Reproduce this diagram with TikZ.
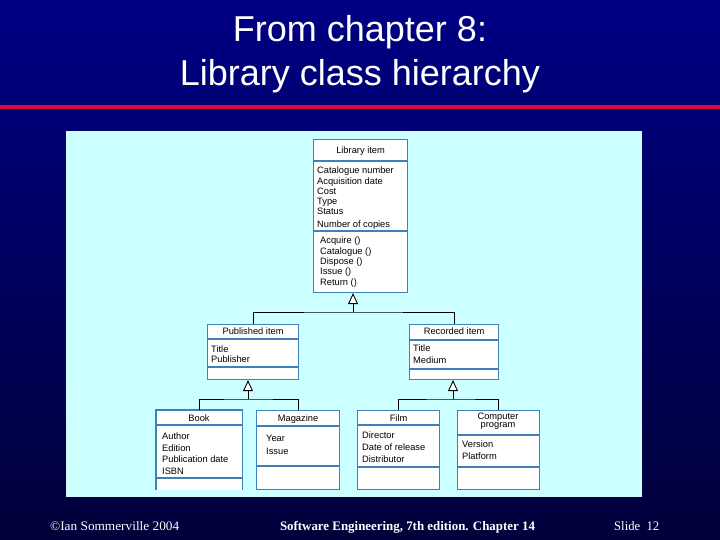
\documentclass[tikz,border=0pt]{standalone}
\usepackage{fontspec}
\setmainfont{Liberation Serif}
\newfontfamily\arialfont{Liberation Sans}
\usetikzlibrary{arrows.meta}

\definecolor{slidetop}{RGB}{0,0,132}
\definecolor{slidebottom}{RGB}{0,0,58}
\definecolor{titlerule}{RGB}{228,8,58}
\definecolor{panel}{RGB}{204,255,255}
\definecolor{boxblue}{RGB}{62,128,186}

\begin{document}
\begin{tikzpicture}[x = 1pt, y = -1pt,
	classbox/.style = {draw = boxblue, line width = 1.1pt, fill = white, anchor = north west, inner sep = 0pt},
	divider/.style = {draw = boxblue, line width = 1.1pt},
	member/.style = {anchor = west, inner sep = 0pt, font = \arialfont\fontsize{9.3}{10}\selectfont, text height = 8pt, text depth = 1.5pt},
	classname/.style = {member, anchor = center},
	genline/.style = {draw, line width = 0.9pt},
	genarrow/.style = {genline, -{Triangle[width = 10pt, length = 11pt, fill = white]}},
	footer/.style = {text = white, inner sep = 0pt, font = \fontsize{13}{15}\selectfont}]

	% Slide background and frame
	
	\useasboundingbox (0, 0) rectangle (720, 540);
	\shade [top color = slidetop, bottom color = slidebottom] (0, 0) rectangle (720, 540);
	\fill [titlerule] (0, 105.5) rectangle (720, 109.5);
	\fill [panel] (66, 131) rectangle (642, 497);
	
	% Slide title
	
	\begin{scope}[text = white, font = \arialfont\fontsize{36}{43}\selectfont]
	
		\node [anchor = base] (title1) at (360, 42) {From chapter 8:};
		\node [anchor = base] (title2) at (360, 86) {Library class hierarchy};
		
	\end{scope}
	
	% The class boxes
	
	\node [classbox, minimum width = 94, minimum height = 153] (item) at (313, 139) {};
	\node [classbox, minimum width = 91, minimum height = 55] (published) at (207, 324) {};
	\node [classbox, minimum width = 89, minimum height = 55] (recorded) at (409, 324) {};
	\node [classbox, draw = none, minimum width = 85, minimum height = 79] (book) at (156, 410) {};
	\node [classbox, minimum width = 83, minimum height = 79] (magazine) at (256, 410) {};
	\node [classbox, minimum width = 82, minimum height = 79] (film) at (357, 410) {};
	\node [classbox, minimum width = 82, minimum height = 79] (program) at (457, 410) {};
	
	\draw [divider] (book.south west) -- (book.north west) -- (book.north east) -- (book.south east);
	
	\foreach \cls/\y in {item/161, item/231, published/339, published/367, recorded/340, recorded/369,
		book/425, book/478, magazine/426, magazine/466, film/425, film/467, program/435, program/467}
		\draw [divider] (\cls.west |- 0, \y) -- (\cls.east |- 0, \y);
	
	% Class names
	
	\foreach \cls/\y/\t in {item/150/Library item, published/331.5/Published item, recorded/331.5/Recorded item,
		book/418/Book, magazine/418/Magazine, film/418/Film}
		\node [classname] (\cls-name) at (\cls.center |- 0, \y) {\t};
	\node [classname, text height = , text depth = , align = center, font = \arialfont\fontsize{9.3}{8.5}\selectfont]
		(program-name) at (498, 421) {Computer\\program};
	
	% Attributes and operations
	
	\foreach \x/\y/\t [count = \i] in {
		317/170.5/Catalogue number, 317/181/Acquisition date, 317/191.5/Cost, 317/201.5/Type,
		317/211.5/Status, 317/224.5/Number of copies,
		320/240.5/Acquire (), 320/251/Catalogue (), 320/261/Dispose (), 320/271/Issue (), 320/282/Return (),
		211/349/Title, 211/359/Publisher,
		413/348/Title, 413/360/Medium,
		162/436/Author, 162/448/Edition, 162/459/Publication date, 162/471/ISBN,
		266/438/Year, 266/451/Issue,
		362/435/Director, 362/447/Date of release, 362/459/Distributor,
		462/444/Version, 462/456/Platform}
		\node [member] (m\i) at (\x, \y) {\t};
	
	% Generalisation connectors
	
	\coordinate (hub-top) at (353, 312);
	\coordinate (hub-pub) at (248, 399);
	\coordinate (hub-rec) at (453, 399);
	
	\draw [genline] (published.north) |- (hub-top) -| (recorded.north);
	\draw [genarrow] (hub-top) -- (hub-top |- item.south);
	
	\draw [genline] (book.north) |- (hub-pub) -| (magazine.north);
	\draw [genarrow] (hub-pub) -- (hub-pub |- published.south);
	
	\draw [genline] (film.north) |- (hub-rec) -| (program.north);
	\draw [genarrow] (hub-rec) -- (hub-rec |- recorded.south);
	
	% Footer
	
	\node [footer, anchor = base west] (copyright) at (50, 530) {\resizebox{129pt}{\height}{©Ian Sommerville 2004}};
	\node [footer, anchor = base] (booktitle) at (407.5, 530) {\resizebox{255pt}{\height}{\bfseries Software Engineering, 7th edition. Chapter 14}};
	\node [footer, anchor = base west] (slideno) at (614, 530) {\resizebox{45pt}{\height}{Slide\ \ 12}};
	
\end{tikzpicture}
\end{document}
